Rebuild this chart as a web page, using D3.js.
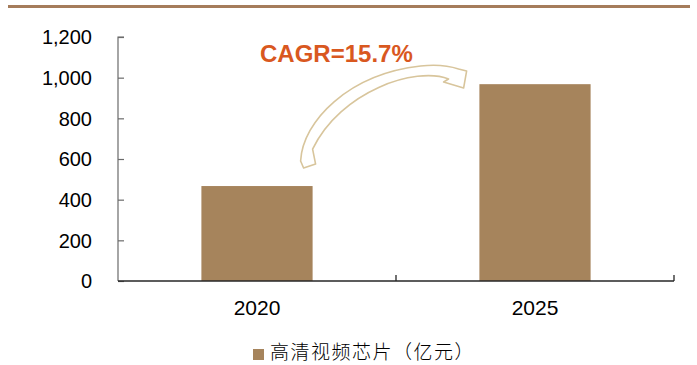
<!DOCTYPE html>
<html>
<head>
<meta charset="utf-8">
<script src="https://cdn.jsdelivr.net/npm/d3@7"></script>
<style>
  html, body { margin: 0; padding: 0; background: #fff; }
  svg { display: block; }
</style>
</head>
<body>
<svg id="chart" width="697" height="365"></svg>
<script>
// Market size of HD video chips (100 million yuan)
const categories = ["2020", "2025"];
const values = [467, 968];
const yTicks = [0, 200, 400, 600, 800, 1000, 1200];
const seriesName = "高清视频芯片（亿元）";
const cagrLabel = "CAGR=15.7%";

const barColor = "#a6845c";
const svg = d3.select("#chart");

// top rule
svg.append("rect")
  .attr("x", 8).attr("y", 5).attr("width", 682).attr("height", 3)
  .attr("fill", "#a57c5b");

const plot = { left: 118, right: 674, top: 37, bottom: 281 };

const x = d3.scaleBand().domain(categories).range([plot.left, plot.right]).padding(0);
const y = d3.scaleLinear().domain([0, 1200]).range([plot.bottom, plot.top]);
const barW = x.bandwidth() * 0.4;

// bars
svg.append("g").selectAll("rect")
  .data(values)
  .join("rect")
  .attr("x", (d, i) => x(categories[i]) + (x.bandwidth() - barW) / 2)
  .attr("y", d => y(d))
  .attr("width", barW)
  .attr("height", d => y(0) - y(d))
  .attr("fill", barColor);

// y axis: ticks pointing inward, labels on the left
const yAxis = svg.append("g")
  .attr("transform", `translate(${plot.left},0)`)
  .call(d3.axisRight(y).tickValues(yTicks).tickSize(6).tickFormat(""));
yAxis.select(".domain").attr("stroke", "#6b6b6b").attr("stroke-width", 1.2)
  .attr("d", `M6,${plot.top}H0V${plot.bottom}`);
yAxis.selectAll(".tick line").attr("stroke", "#6b6b6b").attr("stroke-width", 1.2);

svg.append("g").selectAll("text")
  .data(yTicks)
  .join("text")
  .attr("x", 92)
  .attr("y", d => y(d))
  .attr("dy", "0.36em")
  .attr("text-anchor", "end")
  .attr("font-family", "Liberation Sans, Arial, sans-serif")
  .attr("font-size", 20)
  .attr("fill", "#000")
  .text(d => d3.format(",")(d));

// x axis with boundary ticks between categories
const xAxisG = svg.append("g");
xAxisG.append("line")
  .attr("x1", plot.left).attr("x2", plot.right)
  .attr("y1", plot.bottom).attr("y2", plot.bottom)
  .attr("stroke", "#262626").attr("stroke-width", 1.3);
const bounds = categories.map(c => x(c)).concat([x(categories[categories.length - 1]) + x.bandwidth()]);
xAxisG.selectAll("line.b")
  .data(bounds.slice(1))
  .join("line")
  .attr("class", "b")
  .attr("x1", d => d).attr("x2", d => d)
  .attr("y1", plot.bottom).attr("y2", plot.bottom - 6)
  .attr("stroke", "#262626").attr("stroke-width", 1.3);

svg.append("g").selectAll("text")
  .data(categories)
  .join("text")
  .attr("x", d => x(d) + x.bandwidth() / 2)
  .attr("y", 315)
  .attr("text-anchor", "middle")
  .attr("font-family", "Liberation Sans, Arial, sans-serif")
  .attr("font-size", 21)
  .attr("fill", "#000")
  .text(d => d);

// curved growth arrow, anchored above the first bar
const ax = x(categories[0]) + (x.bandwidth() + barW) / 2 - 12;
const ay = y(590);
const arrowPath = [
  "M0,0",
  "C2,-40 48,-87 120,-95",
  "C138,-97 152,-94 158,-92",
  "L166,-90",
  "L163,-73",
  "L143,-79",
  "L148,-82",
  "C115,-95 40,-70 12,-12",
  "L15,3",
  "L3,7",
  "Z"
].join(" ");
svg.append("path")
  .attr("transform", `translate(${ax},${ay})`)
  .attr("d", arrowPath)
  .attr("fill", "#fff")
  .attr("stroke", "#d8c59c")
  .attr("stroke-width", 1.6)
  .attr("stroke-linejoin", "round");

svg.append("text")
  .attr("x", 260)
  .attr("y", 62)
  .attr("font-family", "Liberation Sans, Arial, sans-serif")
  .attr("font-weight", "bold")
  .attr("font-size", 24)
  .attr("fill", "#d9581f")
  .text(cagrLabel);

// legend
const lg = svg.append("g");
lg.append("rect")
  .attr("x", 253).attr("y", 349).attr("width", 11).attr("height", 11)
  .attr("fill", barColor);
lg.append("text")
  .attr("x", 270).attr("y", 359)
  .attr("font-family", "Noto Sans CJK SC, sans-serif")
  .attr("font-weight", 300)
  .attr("font-size", 19)
  .attr("letter-spacing", 1.5)
  .attr("fill", "#000")
  .text(seriesName);
</script>
</body>
</html>
